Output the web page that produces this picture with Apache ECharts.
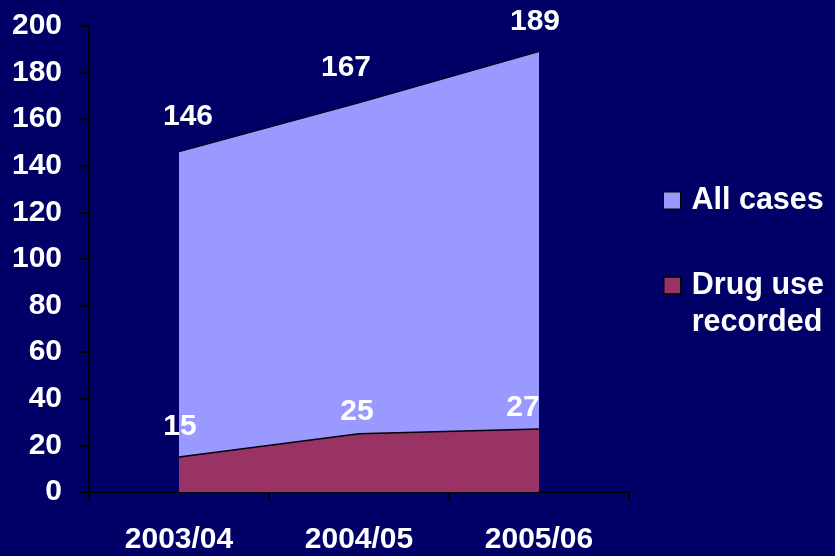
<!DOCTYPE html>
<html>
<head>
<meta charset="utf-8">
<script src="https://cdn.jsdelivr.net/npm/echarts@6/dist/echarts.min.js"></script>
<style>
  html, body { margin: 0; padding: 0; background: #000066; }
  #chart { width: 835px; height: 556px; }
</style>
</head>
<body>
<div id="chart"></div>
<script>
// Financial years on the horizontal axis
const years = ['2003/04', '2004/05', '2005/06'];
// Number of cases per year
const allCases = [146, 167, 189];
// Cases where drug use was recorded
const drugUse = [15, 25, 27];
// Vertical axis range
const yMin = 0, yMax = 200, yStep = 20;

const FONT = '"Liberation Sans", Arial, sans-serif';
const chart = echarts.init(document.getElementById('chart'));

const labelStyle = {
  show: true,
  position: 'top',
  color: '#fff',
  fontFamily: FONT,
  fontWeight: 'bold',
  fontSize: 30
};

// Small nudges so value labels sit clear of the area edges
const allNudge = [[9, 0], [-13, 0], [-4, 5]];
const drugNudge = [[1, -5], [-2, 3], [-16, 4]];
const withNudge = (values, nudges) =>
  values.map((v, i) => ({ value: v, label: { offset: nudges[i] } }));

chart.setOption({
  backgroundColor: '#000066',
  animation: false,
  grid: { left: 89, right: 206, top: 26, bottom: 64 },
  legend: [
    {
      data: ['All cases'],
      left: 663, top: 182, padding: 0,
      itemWidth: 17, itemHeight: 17, itemGap: 0,
      icon: 'rect',
      itemStyle: { borderColor: '#000', borderWidth: 1 },
      textStyle: { color: '#fff', fontFamily: FONT, fontWeight: 'bold', fontSize: 30.5, lineHeight: 37, padding: [0, 0, 0, 6] }
    },
    {
      data: ['Drug use recorded'],
      left: 663, top: 233, padding: 0,
      itemWidth: 17, itemHeight: 17, itemGap: 0,
      icon: 'rect',
      itemStyle: { borderColor: '#000', borderWidth: 1.5 },
      formatter: () => '{e| }\n{t|Drug use}\n{t|recorded}',
      textStyle: {
        color: '#fff', fontFamily: FONT, fontWeight: 'bold', fontSize: 30.5, padding: [0, 0, 0, 6],
        rich: {
          e: { lineHeight: 37, fontSize: 30.5 },
          t: { lineHeight: 37, fontSize: 30.5, color: '#fff', fontFamily: FONT, fontWeight: 'bold' }
        }
      }
    }
  ],
  xAxis: {
    type: 'category',
    data: years,
    boundaryGap: true,
    axisLine: { lineStyle: { color: '#000', width: 2 } },
    axisTick: { show: true, inside: false, length: 9, interval: 0, lineStyle: { color: '#000', width: 2 } },
    axisLabel: { color: '#fff', fontFamily: FONT, fontWeight: 'bold', fontSize: 30, margin: 33, interval: 0 },
    splitLine: { show: false }
  },
  yAxis: {
    type: 'value',
    min: yMin, max: yMax, interval: yStep,
    axisLine: { show: true, lineStyle: { color: '#000', width: 2 } },
    axisTick: { show: true, inside: false, length: 9, lineStyle: { color: '#000', width: 2 } },
    axisLabel: { color: '#fff', fontFamily: FONT, fontWeight: 'bold', fontSize: 30, margin: 27 },
    splitLine: { show: false }
  },
  series: [
    {
      name: 'All cases',
      type: 'line',
      data: withNudge(allCases, allNudge),
      symbol: 'circle',
      symbolSize: 0,
      showSymbol: true,
      color: '#9999FF',
      lineStyle: { color: '#000', width: 1 },
      areaStyle: { color: '#9999FF', opacity: 1 },
      label: Object.assign({}, labelStyle, { distance: 20 }),
      z: 2
    },
    {
      name: 'Drug use recorded',
      type: 'line',
      data: withNudge(drugUse, drugNudge),
      symbol: 'circle',
      symbolSize: 0,
      showSymbol: true,
      color: '#993366',
      lineStyle: { color: '#000', width: 1.5 },
      areaStyle: { color: '#993366', opacity: 1 },
      label: Object.assign({}, labelStyle, { distance: 10 }),
      z: 3
    }
  ]
});
</script>
</body>
</html>
